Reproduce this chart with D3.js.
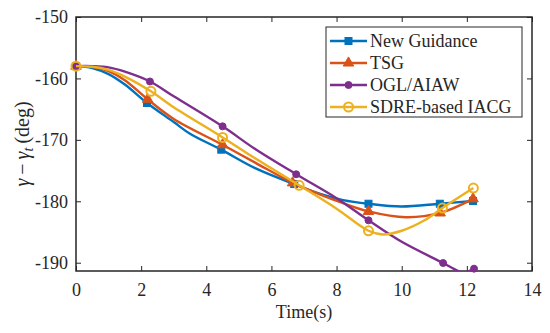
<!DOCTYPE html>
<html>
<head>
<meta charset="utf-8">
<script src="https://cdn.jsdelivr.net/npm/d3@7"></script>
<style>
  body { margin: 0; background: #fff; }
  svg text { font-family: "Liberation Serif", "Times New Roman", serif; fill: #262626; }
</style>
</head>
<body>
<div id="chart"></div>
<script>
// data (time in s, angle in deg)
const seriesNames = ["New Guidance", "TSG", "OGL/AIAW", "SDRE-based IACG"];

const newGuidanceT = [0, 0.5, 1, 1.5, 2.18, 3, 3.5, 4.46, 5.5, 6.7, 7.5, 8.2, 8.98, 9.98, 11.17, 12.19];
const newGuidanceV = [-158, -158.3, -159.3, -161, -164, -167.1, -169, -171.6, -174.6, -177.2, -178.8, -179.8, -180.4, -180.85, -180.4, -179.95];
const newGuidanceMarks = [0, 4, 7, 9, 12, 14, 15];

const tsgT = [0, 0.5, 1, 1.5, 2.2, 3, 4.5, 5.5, 6.65, 7.5, 8.2, 8.98, 10.13, 11.18, 12.19];
const tsgV = [-158, -158.1, -158.8, -160.3, -163.4, -166.6, -170.8, -173.7, -177.0, -178.9, -180.3, -181.65, -182.6, -181.9, -179.6];
const tsgMarks = [0, 4, 6, 8, 11, 13, 14];

const oglT = [0, 0.5, 1, 1.5, 2.27, 3, 4.5, 5.5, 6.76, 8, 8.98, 10, 11.27, 11.6, 11.9, 12.22];
const oglV = [-158, -158, -158.2, -158.9, -160.5, -162.9, -167.8, -171.5, -175.6, -179.5, -183.1, -186.6, -190.05, -191.0, -191.6, -190.97];
const oglMarks = [0, 4, 6, 8, 10, 12, 15];

const sdreT = [0, 0.5, 1, 1.5, 2.3, 3, 4.5, 5.5, 6.85, 8, 8.98, 9.42, 10, 10.7, 11.25, 12.2];
const sdreV = [-158, -158.1, -158.6, -159.7, -162.1, -164.7, -169.6, -173, -177.4, -181.2, -184.8, -185.4, -184.8, -183.1, -181.1, -177.85];
const sdreMarks = [0, 4, 6, 8, 10, 14, 15];

const xTicks = [0, 2, 4, 6, 8, 10, 12, 14];
const yTicks = [-150, -160, -170, -180, -190];

const colors = ["#0072BD", "#D95319", "#7E2F8E", "#EDB120"];
const markerKinds = ["square", "triangle", "dot", "ring"];

const width = 550, height = 333;
const margin = { left: 76, right: 18, top: 17, bottom: 62 };

const svg = d3.select("#chart").append("svg")
  .attr("width", width)
  .attr("height", height);

const x = d3.scaleLinear().domain([0, 14]).range([margin.left, width - margin.right]);
const y = d3.scaleLinear().domain([-191.35, -150]).range([height - margin.bottom, margin.top]);

svg.append("clipPath").attr("id", "plotClip")
  .append("rect")
  .attr("x", x(0)).attr("y", y(-150))
  .attr("width", x(14) - x(0)).attr("height", y(-191.35) - y(-150));

// axes, ticks inward on all sides
const axisStyle = g => {
  g.select(".domain").remove();
  g.selectAll(".tick line").attr("stroke", "#262626").attr("stroke-width", 1);
};

svg.append("g")
  .attr("transform", `translate(0,${y(-191.35)})`)
  .call(d3.axisBottom(x).tickValues(xTicks).tickSize(-5).tickPadding(12))
  .call(axisStyle)
  .selectAll("text").style("font-size", "18px");

svg.append("g")
  .attr("transform", `translate(0,${y(-150)})`)
  .call(d3.axisTop(x).tickValues(xTicks).tickSize(-5).tickFormat(""))
  .call(axisStyle);

svg.append("g")
  .attr("transform", `translate(${x(0)},0)`)
  .call(d3.axisLeft(y).tickValues(yTicks).tickSize(-5).tickPadding(8).tickFormat(d3.format("d")))
  .call(axisStyle)
  .selectAll("text").style("font-size", "18px").text(d => String(d).replace("\u2212", "-"));

svg.append("g")
  .attr("transform", `translate(${x(14)},0)`)
  .call(d3.axisRight(y).tickValues(yTicks).tickSize(-5).tickFormat(""))
  .call(axisStyle);

svg.append("rect")
  .attr("x", x(0)).attr("y", y(-150))
  .attr("width", x(14) - x(0)).attr("height", y(-191.35) - y(-150))
  .attr("fill", "none").attr("stroke", "#262626").attr("stroke-width", 1.5);

// lines
const allSeries = [
  { t: newGuidanceT, v: newGuidanceV, marks: newGuidanceMarks },
  { t: tsgT, v: tsgV, marks: tsgMarks },
  { t: oglT, v: oglV, marks: oglMarks },
  { t: sdreT, v: sdreV, marks: sdreMarks }
];

const line = d3.line()
  .x(d => x(d[0]))
  .y(d => y(d[1]))
  .curve(d3.curveCatmullRom.alpha(0.5));

function drawMarker(g, kind, color, cx, cy) {
  if (kind === "square") {
    g.append("rect").attr("x", cx - 3.5).attr("y", cy - 3.5).attr("width", 7).attr("height", 7)
      .attr("fill", color).attr("stroke", color);
  } else if (kind === "triangle") {
    g.append("path").attr("d", d3.symbol(d3.symbolTriangle, 48)())
      .attr("transform", `translate(${cx},${cy})`)
      .attr("fill", color).attr("stroke", color);
  } else if (kind === "dot") {
    g.append("circle").attr("cx", cx).attr("cy", cy).attr("r", 3.5)
      .attr("fill", color).attr("stroke", color);
  } else {
    g.append("circle").attr("cx", cx).attr("cy", cy).attr("r", 4.5)
      .attr("fill", "none").attr("stroke", color).attr("stroke-width", 2);
  }
}

allSeries.forEach((s, i) => {
  const pts = s.t.map((t, j) => [t, s.v[j]]);
  svg.append("path")
    .datum(pts)
    .attr("clip-path", "url(#plotClip)")
    .attr("fill", "none")
    .attr("stroke", colors[i])
    .attr("stroke-width", 2.4)
    .attr("d", line);
  const mg = svg.append("g");
  s.marks.forEach(j => drawMarker(mg, markerKinds[i], colors[i], x(s.t[j]), y(s.v[j])));
});

// legend
const legend = svg.append("g");
legend.append("rect")
  .attr("x", 326).attr("y", 27).attr("width", 196).attr("height", 90)
  .attr("fill", "#fff").attr("stroke", "#262626").attr("stroke-width", 1);

seriesNames.forEach((name, i) => {
  const ly = 41 + i * 22;
  legend.append("line")
    .attr("x1", 330).attr("x2", 367).attr("y1", ly).attr("y2", ly)
    .attr("stroke", colors[i]).attr("stroke-width", 2.4);
  drawMarker(legend, markerKinds[i], colors[i], 348.5, ly);
  legend.append("text")
    .attr("x", 370).attr("y", ly + 6)
    .style("font-size", "18px")
    .text(name);
});

// axis titles
svg.append("text")
  .attr("x", (x(0) + x(14)) / 2).attr("y", 318)
  .attr("text-anchor", "middle")
  .style("font-size", "18px")
  .text("Time(s)");

const yTitle = svg.append("text")
  .attr("transform", `translate(29,${(y(-150) + y(-191.35)) / 2}) rotate(-90)`)
  .attr("text-anchor", "middle")
  .style("font-size", "20px");
yTitle.append("tspan").style("font-style", "italic").text("γ");
yTitle.append("tspan").text("\u2009\u2212\u2009");
yTitle.append("tspan").style("font-style", "italic").text("γ");
yTitle.append("tspan").style("font-style", "italic").style("font-size", "14px").attr("dy", 4).text("t");
yTitle.append("tspan").attr("dy", -4).text("\u2009(deg)");
</script>
</body>
</html>
